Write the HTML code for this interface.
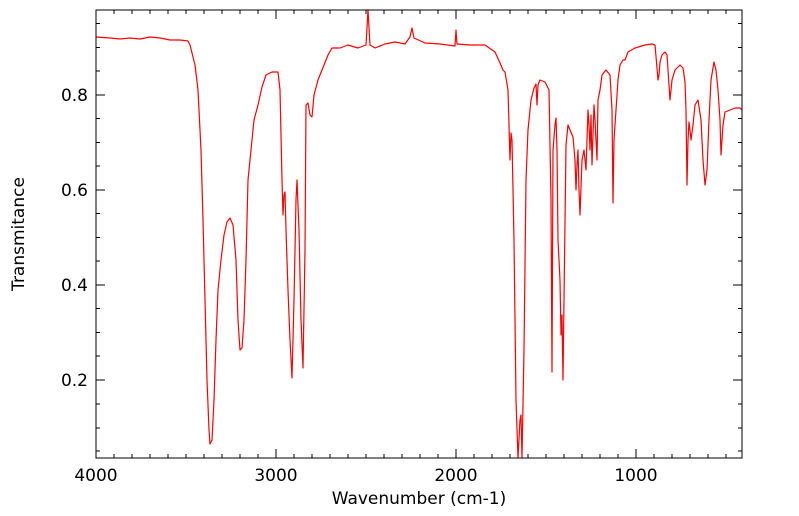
<!DOCTYPE html>
<html><head><meta charset="utf-8"><style>
html,body{margin:0;padding:0;background:#fff;}
svg{display:block;font-family:"DejaVu Sans","Liberation Sans",sans-serif;}
</style></head><body>
<svg width="799" height="516" viewBox="0 0 799 516" xmlns="http://www.w3.org/2000/svg">
<rect width="799" height="516" fill="#fff"/>
<g stroke="#000" stroke-width="1">
<path d="M96,458v-9M276,458v-9M456,458v-9M636,458v-9M96,10v9M276,10v9M456,10v9M636,10v9"/>
<path d="M114,458v-4M132,458v-4M150,458v-4M168,458v-4M186,458v-4M204,458v-4M222,458v-4M240,458v-4M258,458v-4M294,458v-4M312,458v-4M330,458v-4M348,458v-4M366,458v-4M384,458v-4M402,458v-4M420,458v-4M438,458v-4M474,458v-4M492,458v-4M510,458v-4M528,458v-4M546,458v-4M564,458v-4M582,458v-4M600,458v-4M618,458v-4M654,458v-4M672,458v-4M690,458v-4M708,458v-4M726,458v-4"/>
<path d="M114,10v4M132,10v4M150,10v4M168,10v4M186,10v4M204,10v4M222,10v4M240,10v4M258,10v4M294,10v4M312,10v4M330,10v4M348,10v4M366,10v4M384,10v4M402,10v4M420,10v4M438,10v4M474,10v4M492,10v4M510,10v4M528,10v4M546,10v4M564,10v4M582,10v4M600,10v4M618,10v4M654,10v4M672,10v4M690,10v4M708,10v4M726,10v4"/>
<path d="M96,95h9M96,190h9M96,285h9M96,380h9M742,95h-9M742,190h-9M742,285h-9M742,380h-9"/>
<path d="M96,23.5h4M96,47.5h4M96,71h4M96,118.5h4M96,142.5h4M96,166h4M96,213.5h4M96,237.5h4M96,261h4M96,308.5h4M96,332.5h4M96,356h4M96,404h4M96,428h4M96,451h4"/>
<path d="M742,23.5h-4M742,47.5h-4M742,71h-4M742,118.5h-4M742,142.5h-4M742,166h-4M742,213.5h-4M742,237.5h-4M742,261h-4M742,308.5h-4M742,332.5h-4M742,356h-4M742,404h-4M742,428h-4M742,451h-4"/>
</g>
<polyline fill="none" stroke="#ff0000" stroke-width="1.2" stroke-linejoin="round" points="96,37 110,38 120,39 130,38 140,39 150,37 160,38 170,40 180,40 188,41 190,45 195,65 198,90 201,150 203,220 205,300 207,380 209,430 210,444 212,440 214,400 216,340 218,290 221,260 224,235 227,222 230,218 233,225 236,260 238,320 240,350 242,348 244,320 246,260 248,180 251,150 254,120 258,105 262,87 266,75 272,72 278,72 280,90 282,180 283,215 284,195 285,192 286,230 288,290 290,340 292,378 294,300 296,200 297,180 299,230 301,320 303,368 305,250 306,105 308,103 310,115 312,117 314,95 318,80 322,70 328,55 332,48 340,48 348,45 358,48 366,45 368,10 370,45 375,48 385,44 395,42 405,44 410,37 412,28 414,38 425,43 440,44 455,46 456,30 457,44 470,45 485,45 495,52 500,63 503,70 505,72 508,90 510,160 511,133 512,140 514,240 516,400 518,458 520,420 521,415 522,458 524,350 526,180 528,130 531,100 534,88 536,84 537,105 538,85 540,80 545,82 549,90 551,200 552,372 553,150 555,125 556,118 557,150 558,240 560,280 561,335 562,315 563,380 564,300 566,145 568,125 570,130 573,137 575,160 576,190 577,165 578,150 579,190 580,215 582,160 584,150 586,170 588,110 589,125 590,150 591,115 592,165 594,105 595,120 597,160 598,100 600,90 602,75 606,70 610,75 612,110 613,203 614,140 616,110 618,80 620,65 623,60 625,60 628,52 635,48 645,45 652,44 655,45 657,68 658,80 659,75 660,62 662,55 665,52 667,55 669,85 670,100 672,80 675,70 680,65 683,68 685,82 686,110 687,185 688,140 689,122 690,130 691,140 693,125 695,105 698,100 701,120 703,160 705,185 707,170 709,120 711,80 713,68 714,62 716,70 718,90 720,120 721,155 723,125 725,112 730,110 735,108 740,108 742,110"/>
<rect x="96" y="10" width="646" height="448" fill="none" stroke="#000" stroke-width="1"/>
<g font-size="17" fill="#000" text-anchor="middle">
<text x="96" y="481">4000</text>
<text x="276" y="481">3000</text>
<text x="456" y="481">2000</text>
<text x="636" y="481">1000</text>
<text x="419" y="504">Wavenumber (cm-1)</text>
</g>
<g font-size="17" fill="#000" text-anchor="end">
<text x="88" y="101">0.8</text>
<text x="88" y="196">0.6</text>
<text x="88" y="291">0.4</text>
<text x="88" y="386">0.2</text>
</g>
<text x="24" y="234" font-size="17" text-anchor="middle" transform="rotate(-90 24 234)">Transmitance</text>
</svg>
</body></html>
